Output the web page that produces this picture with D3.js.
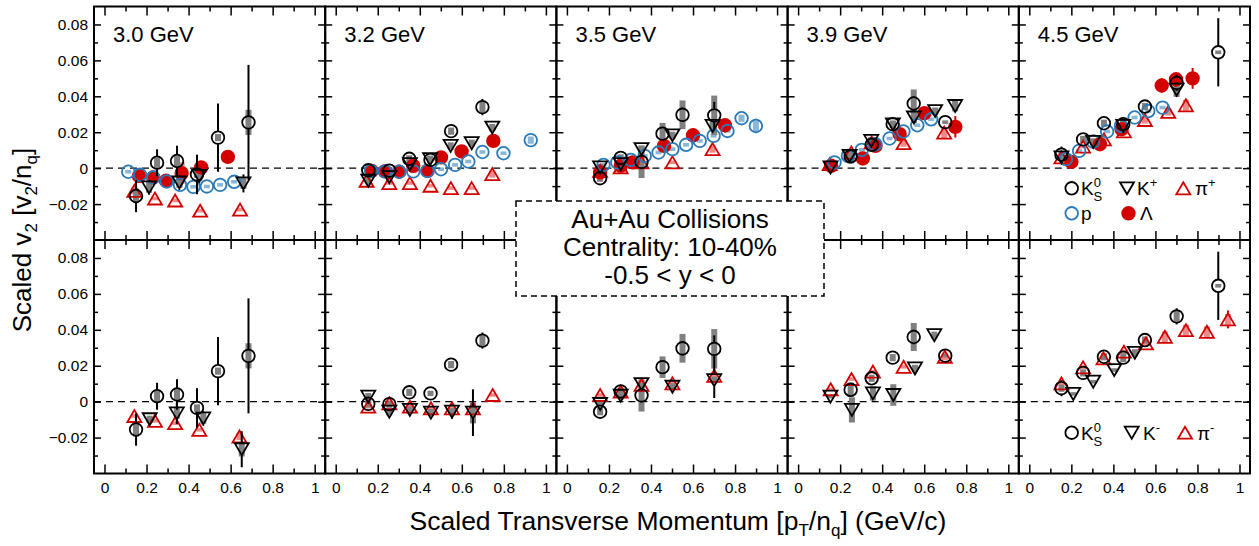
<!DOCTYPE html>
<html lang="en">
<head>
<meta charset="UTF-8">
<title>Scaled v2 vs scaled pT</title>
<style>
  body { margin: 0; background: #fff; }
  svg { font-family: "Liberation Sans", Arial, Helvetica, sans-serif; }
</style>
</head>
<body>
<svg id="chart" width="1259" height="546"></svg>
<script src="https://d3js.org/d3.v7.min.js"></script>
<script>
// ---- data: one list per particle, one sub-list per energy, points are [pT/nq, v2/nq, stat, sys]
var energies = ["3.0 GeV", "3.2 GeV", "3.5 GeV", "3.9 GeV", "4.5 GeV"];
var xMajor = [0, 0.2, 0.4, 0.6, 0.8, 1];
var xMinor = [0.1, 0.3, 0.5, 0.7, 0.9];
var yMajor = [-0.02, 0, 0.02, 0.04, 0.06, 0.08];
var yMinor = [-0.03, -0.01, 0.01, 0.03, 0.05, 0.07];

var k0s = [
  [[0.15,-0.0155,0.009,0.004],[0.25,0.003,0.0075,0.003],[0.345,0.004,0.0085,0.003],[0.44,-0.0035,0.011,0.002],[0.54,0.017,0.019,0.002],[0.685,0.0255,0.032,0.007]],
  [[0.155,-0.0012,0.002,0.002],[0.255,-0.0014,0.002,0.002],[0.35,0.0052,0.002,0.002],[0.451,0.0046,0.002,0.0015],[0.549,0.0206,0.0035,0.002],[0.698,0.034,0.0045,0.003]],
  [[0.158,-0.0056,0.002,0.002],[0.256,0.0057,0.003,0.002],[0.355,0.0035,0.004,0.009],[0.455,0.0192,0.003,0.006],[0.55,0.0297,0.004,0.008],[0.701,0.0294,0.0075,0.011]],
  [[0.25,0.0066,0.003,0.004],[0.35,0.013,0.002,0.002],[0.45,0.0245,0.002,0.002],[0.55,0.036,0.004,0.0078],[0.7,0.0256,0.002,0.001]],
  [[0.153,0.0075,0.0045,0.002],[0.256,0.016,0.003,0.002],[0.355,0.025,0.003,0.002],[0.447,0.0245,0.0035,0.0025],[0.55,0.0343,0.0035,0.002],[0.701,0.0475,0.0045,0.003],[0.899,0.0645,0.019,0.001]]
];
var kplus = [
  [[0.212,-0.0107,0.004,0.003],[0.356,-0.008,0.004,0.003],[0.451,-0.0043,0.004,0.003],[0.661,-0.0085,0.005,0.003]],
  [[0.155,-0.007,0.002,0.002],[0.255,-0.005,0.002,0.002],[0.353,0.0022,0.002,0.002],[0.449,0.005,0.002,0.002],[0.547,0.0124,0.002,0.002],[0.647,0.0139,0.002,0.002],[0.745,0.0226,0.003,0.002]],
  [[0.158,0.0004,0.002,0.002],[0.256,0.0022,0.002,0.002],[0.355,0.0106,0.003,0.002],[0.502,0.0183,0.002,0.002],[0.693,0.0235,0.003,0.003]],
  [[0.154,0.0004,0.002,0.002],[0.245,0.0068,0.002,0.002],[0.348,0.0152,0.002,0.002],[0.451,0.0244,0.002,0.002],[0.551,0.0282,0.002,0.003],[0.652,0.0318,0.002,0.002],[0.747,0.0346,0.003,0.003]],
  [[0.153,0.006,0.002,0.002],[0.304,0.0146,0.002,0.002],[0.447,0.0235,0.003,0.004],[0.701,0.0437,0.004,0.004]]
];
var piplus = [
  [[0.142,-0.0126,0.003,0.002],[0.24,-0.0169,0.002,0.001],[0.336,-0.018,0.002,0.001],[0.455,-0.0237,0.002,0.001],[0.645,-0.0231,0.002,0.001]],
  [[0.147,-0.007,0.001,0.001],[0.255,-0.0083,0.001,0.001],[0.353,-0.0083,0.001,0.001],[0.451,-0.0098,0.001,0.001],[0.548,-0.0111,0.001,0.001],[0.647,-0.0111,0.001,0.001],[0.745,-0.0033,0.002,0.002]],
  [[0.158,-0.0015,0.001,0.001],[0.256,0.0004,0.001,0.001],[0.355,0.0032,0.001,0.001],[0.502,0.0032,0.001,0.001],[0.693,0.0106,0.002,0.002]],
  [[0.15,0.0022,0.001,0.001],[0.253,0.0087,0.001,0.001],[0.35,0.0143,0.001,0.001],[0.502,0.0139,0.001,0.002],[0.695,0.0198,0.002,0.003]],
  [[0.153,0.006,0.001,0.001],[0.256,0.012,0.001,0.001],[0.355,0.016,0.001,0.001],[0.45,0.0205,0.001,0.001],[0.55,0.0268,0.001,0.002],[0.661,0.0313,0.002,0.002],[0.745,0.035,0.002,0.003]]
];
var proton = [
  [[0.113,-0.002,0.001,0.001],[0.169,-0.0037,0.001,0.001],[0.232,-0.0052,0.001,0.001],[0.296,-0.0074,0.001,0.001],[0.359,-0.0093,0.001,0.001],[0.423,-0.0104,0.001,0.001],[0.487,-0.0102,0.001,0.001],[0.55,-0.0093,0.001,0.001],[0.617,-0.0076,0.001,0.001]],
  [[0.168,-0.0015,0.001,0.001],[0.234,-0.0018,0.001,0.001],[0.302,-0.002,0.001,0.001],[0.369,-0.0018,0.001,0.001],[0.436,-0.0015,0.001,0.001],[0.501,-0.0006,0.001,0.001],[0.568,0.0018,0.001,0.001],[0.631,0.0037,0.001,0.001],[0.698,0.009,0.001,0.001],[0.798,0.0083,0.001,0.001],[0.928,0.0156,0.003,0.002]],
  [[0.174,0.0018,0.001,0.001],[0.24,0.0032,0.001,0.001],[0.304,0.0046,0.001,0.001],[0.37,0.0068,0.001,0.001],[0.436,0.0087,0.001,0.001],[0.502,0.0106,0.001,0.001],[0.567,0.013,0.001,0.001],[0.632,0.0152,0.001,0.001],[0.698,0.018,0.001,0.001],[0.764,0.0207,0.002,0.001],[0.831,0.0278,0.002,0.002],[0.899,0.0235,0.004,0.003]],
  [[0.173,0.0032,0.001,0.001],[0.237,0.0068,0.001,0.001],[0.303,0.0102,0.001,0.001],[0.368,0.0133,0.001,0.001],[0.435,0.0165,0.001,0.001],[0.501,0.0204,0.001,0.001],[0.567,0.0239,0.001,0.001],[0.633,0.0272,0.001,0.001]],
  [[0.174,0.005,0.001,0.001],[0.237,0.0096,0.001,0.001],[0.304,0.0148,0.001,0.001],[0.37,0.0204,0.001,0.001],[0.436,0.0235,0.001,0.001],[0.501,0.0282,0.001,0.001],[0.566,0.0318,0.001,0.001],[0.634,0.0337,0.001,0.001]]
];
var lambda = [
  [[0.164,-0.0043,0.002,0.004],[0.232,-0.0052,0.002,0.003],[0.293,-0.007,0.002,0.003],[0.367,-0.0028,0.003,0.006],[0.46,0.0004,0.002,0.002],[0.587,0.0063,0.003,0.002]],
  [[0.171,-0.0015,0.001,0.001],[0.234,-0.0018,0.001,0.001],[0.302,-0.002,0.001,0.001],[0.369,0.0013,0.001,0.001],[0.437,-0.0015,0.001,0.001],[0.501,0.006,0.001,0.001],[0.599,0.0093,0.002,0.001],[0.75,0.0152,0.0035,0.003]],
  [[0.158,-0.0024,0.001,0.001],[0.256,0.0013,0.001,0.001],[0.312,0.0032,0.001,0.001],[0.462,0.0124,0.002,0.001],[0.6,0.0183,0.002,0.001],[0.752,0.0239,0.004,0.003]],
  [[0.157,0.0013,0.001,0.001],[0.308,0.0054,0.001,0.001],[0.368,0.0124,0.001,0.001],[0.483,0.0189,0.002,0.001],[0.601,0.0306,0.002,0.002],[0.748,0.023,0.006,0.003]],
  [[0.2,0.0035,0.001,0.001],[0.336,0.0133,0.001,0.001],[0.439,0.0217,0.002,0.001],[0.63,0.046,0.004,0.003],[0.698,0.0494,0.004,0.004],[0.777,0.05,0.0058,0.003]]
];
var kminus = [
  [[0.215,-0.0098,0.003,0.002],[0.344,-0.0065,0.006,0.003],[0.47,-0.0093,0.004,0.003],[0.653,-0.0265,0.01,0.004]],
  [[0.155,0.0028,0.002,0.002],[0.255,-0.0056,0.002,0.002],[0.353,-0.0046,0.002,0.002],[0.453,-0.0061,0.003,0.002],[0.553,-0.0056,0.004,0.002],[0.653,-0.0061,0.013,0.006]],
  [[0.158,-0.0013,0.002,0.002],[0.256,0.0033,0.002,0.002],[0.355,0.0098,0.002,0.002],[0.502,0.0083,0.002,0.002],[0.701,0.012,0.01,0.002]],
  [[0.154,0.0028,0.002,0.001],[0.256,-0.0046,0.003,0.007],[0.356,0.0046,0.002,0.004],[0.453,0.0037,0.002,0.006],[0.556,0.0185,0.002,0.002],[0.648,0.037,0.003,0.002]],
  [[0.209,0.0043,0.001,0.001],[0.304,0.0111,0.001,0.001],[0.404,0.0176,0.002,0.001],[0.502,0.0272,0.002,0.002]]
];
var piminus = [
  [[0.142,-0.008,0.002,0.001],[0.24,-0.0107,0.002,0.001],[0.336,-0.012,0.002,0.001],[0.451,-0.0157,0.002,0.001],[0.642,-0.0194,0.002,0.002]],
  [[0.155,-0.0028,0.001,0.001],[0.255,-0.0009,0.001,0.001],[0.353,-0.0028,0.001,0.001],[0.453,-0.0037,0.001,0.001],[0.553,-0.0037,0.001,0.001],[0.653,-0.0037,0.001,0.001],[0.747,0.0037,0.001,0.001]],
  [[0.158,0.0037,0.001,0.001],[0.256,0.0056,0.001,0.001],[0.355,0.0093,0.001,0.001],[0.502,0.0102,0.001,0.001],[0.701,0.0144,0.002,0.002]],
  [[0.155,0.0069,0.001,0.001],[0.254,0.0126,0.001,0.001],[0.356,0.0167,0.001,0.001],[0.502,0.0194,0.001,0.001],[0.698,0.025,0.003,0.002]],
  [[0.153,0.0102,0.001,0.001],[0.256,0.0191,0.001,0.001],[0.353,0.0241,0.001,0.001],[0.45,0.0278,0.001,0.001],[0.555,0.0324,0.001,0.001],[0.645,0.0361,0.002,0.003],[0.745,0.0398,0.002,0.003],[0.845,0.0389,0.002,0.003],[0.945,0.0458,0.005,0.003]]
];

// ---- layout
var red = "#d20000", blue = "#2a7ab8";
var left = 94, right = 1250, rowTops = [6.5, 240], rowH = 233.5;
var colW = (right - left) / 5;

var x = d3.scaleLinear().domain([-0.05, 1.05]).range([0, colW]);
var y = d3.scaleLinear().domain([-0.04, 0.09]).range([rowH, 0]);

var styles = {
  k0s:     { shape: "circle", color: "#000", fill: "none", sys: "#808080" },
  kplus:   { shape: "down",   color: "#000", fill: "none", sys: "#808080" },
  kminus:  { shape: "down",   color: "#000", fill: "none", sys: "#808080" },
  piplus:  { shape: "up",     color: red,    fill: "none", sys: "rgba(225,60,60,0.6)" },
  piminus: { shape: "up",     color: red,    fill: "none", sys: "rgba(225,60,60,0.6)" },
  proton:  { shape: "circle", color: blue,   fill: "none", sys: "rgba(42,122,184,0.55)" },
  lambda:  { shape: "circle", color: red,    fill: red,    sys: "rgba(225,60,60,0.6)" }
};
var topSeries = [["lambda", lambda], ["piplus", piplus], ["proton", proton], ["kplus", kplus], ["k0s", k0s]];
var botSeries = [["piminus", piminus], ["kminus", kminus], ["k0s", k0s]];

var svg = d3.select("#chart");

function marker(g, st, cx, cy) {
  if (st.shape === "circle") {
    g.append("circle").attr("cx", cx).attr("cy", cy).attr("r", 6.3)
      .attr("fill", st.fill).attr("stroke", st.color).attr("stroke-width", 1.8);
  } else {
    var s = st.shape === "up" ? 1 : -1;
    g.append("path")
      .attr("d", "M" + cx + "," + (cy - 6 * s) + "L" + (cx + 7) + "," + (cy + 6 * s) + "L" + (cx - 7) + "," + (cy + 6 * s) + "Z")
      .attr("fill", st.fill).attr("stroke", st.color).attr("stroke-width", 1.8).attr("stroke-linejoin", "miter");
  }
}

function styleAxis(a) {
  a.select(".domain").remove();
  a.selectAll(".tick line").attr("stroke", "#000").attr("stroke-width", 1.5);
  a.selectAll(".tick text").attr("fill", "#000").attr("font-size", 15.5)
    .attr("font-family", "Liberation Sans, Arial, sans-serif");
}

var fmtX = function (d) { return d === 0 ? "0" : d === 1 ? "1" : d3.format(".1f")(d); };
var fmtY = function (d) { return d === 0 ? "0" : d3.format(".2f")(d); };

energies.forEach(function (en, c) {
  [0, 1].forEach(function (r) {
    var g = svg.append("g").attr("transform", "translate(" + (left + c * colW) + "," + rowTops[r] + ")");

    g.append("line").attr("x1", 0).attr("x2", colW).attr("y1", y(0)).attr("y2", y(0))
      .attr("stroke", "#000").attr("stroke-width", 1.4).attr("stroke-dasharray", "7,5");

    // axes, ticks pointing inward
    g.append("g").attr("transform", "translate(0," + rowH + ")")
      .call(d3.axisBottom(x).tickValues(xMajor).tickSize(-9).tickPadding(8).tickFormat(r === 1 ? fmtX : ""))
      .call(styleAxis);
    g.append("g").attr("transform", "translate(0," + rowH + ")")
      .call(d3.axisBottom(x).tickValues(xMinor).tickSize(-5).tickFormat("")).call(styleAxis);
    g.append("g").call(d3.axisTop(x).tickValues(xMajor).tickSize(-9).tickFormat("")).call(styleAxis);
    g.append("g").call(d3.axisTop(x).tickValues(xMinor).tickSize(-5).tickFormat("")).call(styleAxis);
    g.append("g")
      .call(d3.axisLeft(y).tickValues(yMajor).tickSize(-7).tickPadding(6).tickFormat(c === 0 ? fmtY : ""))
      .call(styleAxis);
    g.append("g").call(d3.axisLeft(y).tickValues(yMinor).tickSize(-4).tickFormat("")).call(styleAxis);
    g.append("g").attr("transform", "translate(" + colW + ",0)")
      .call(d3.axisRight(y).tickValues(yMajor).tickSize(-7).tickFormat("")).call(styleAxis);
    g.append("g").attr("transform", "translate(" + colW + ",0)")
      .call(d3.axisRight(y).tickValues(yMinor).tickSize(-4).tickFormat("")).call(styleAxis);

    var series = r === 0 ? topSeries : botSeries;
    // systematic boxes first
    series.forEach(function (s) {
      var st = styles[s[0]];
      s[1][c].forEach(function (p) {
        g.append("rect").attr("x", x(p[0]) - 3).attr("width", 6)
          .attr("y", y(p[1] + p[3])).attr("height", y(p[1] - p[3]) - y(p[1] + p[3]))
          .attr("fill", st.sys);
      });
    });
    // statistical bars and markers
    series.forEach(function (s) {
      var st = styles[s[0]];
      s[1][c].forEach(function (p) {
        var cx = x(p[0]), cy = y(p[1]), hi = y(p[1] + p[2]), lo = y(p[1] - p[2]);
        if (cy - hi > 6.5) {
          g.append("line").attr("x1", cx).attr("x2", cx).attr("y1", hi).attr("y2", cy - 6.5)
            .attr("stroke", st.color).attr("stroke-width", 2);
          g.append("line").attr("x1", cx).attr("x2", cx).attr("y1", cy + 6.5).attr("y2", lo)
            .attr("stroke", st.color).attr("stroke-width", 2);
        }
        marker(g, st, cx, cy);
      });
    });

    g.append("rect").attr("width", colW).attr("height", rowH)
      .attr("fill", "none").attr("stroke", "#000").attr("stroke-width", 2);

    if (r === 0) {
      g.append("text").attr("x", 19).attr("y", 35).attr("font-size", 22).text(en);
    }
  });
});

// ---- legends
function addLabel(t, base, sup, sub) {
  t.append("tspan").text(base);
  if (sup) t.append("tspan").attr("dy", -8).attr("font-size", 13).text(sup);
  if (sub) t.append("tspan").attr("dx", -7.3).attr("dy", 14).attr("font-size", 13).text(sub);
}
var lg = svg.append("g").attr("font-size", 19);
var legTop = [
  ["k0s", 1071.7, 188.3, 1081, "K", "0", "S"],
  ["kplus", 1127, 188.3, 1137, "K", "+", null],
  ["piplus", 1183.3, 188.3, 1195, "\u03c0", "+", null],
  ["proton", 1071.7, 213.3, 1081, "p", null, null],
  ["lambda", 1128.5, 213.3, 1140, "\u039b", null, null]
];
var legBot = [
  ["k0s", 1071.7, 432.7, 1081, "K", "0", "S"],
  ["kminus", 1131.7, 432.7, 1143, "K", "-", null],
  ["piminus", 1185, 432.7, 1197, "\u03c0", "-", null]
];
legTop.concat(legBot).forEach(function (d) {
  marker(lg, styles[d[0]], d[1], d[2]);
  addLabel(lg.append("text").attr("x", d[3]).attr("y", d[2] + 7), d[4], d[5], d[6]);
});

// ---- centre box
var box = svg.append("g");
box.append("rect").attr("x", 516).attr("y", 201).attr("width", 308).attr("height", 95)
  .attr("fill", "#fff").attr("stroke", "#000").attr("stroke-width", 1.5).attr("stroke-dasharray", "6,4");
["Au+Au Collisions", "Centrality: 10-40%", "-0.5 < y < 0"].forEach(function (s, i) {
  box.append("text").attr("x", 670).attr("y", 228 + i * 28).attr("text-anchor", "middle")
    .attr("font-size", 26).text(s);
});

// ---- axis titles
var xt = svg.append("text").attr("x", 678).attr("y", 530).attr("text-anchor", "middle").attr("font-size", 26.5);
xt.append("tspan").text("Scaled Transverse Momentum [p");
xt.append("tspan").attr("dy", 6).attr("font-size", 17).text("T");
xt.append("tspan").attr("dy", -6).text("/n");
xt.append("tspan").attr("dy", 6).attr("font-size", 17).text("q");
xt.append("tspan").attr("dy", -6).text("] (GeV/c)");

var yt = svg.append("text").attr("transform", "translate(31,240) rotate(-90)")
  .attr("text-anchor", "middle").attr("font-size", 26);
yt.append("tspan").text("Scaled v");
yt.append("tspan").attr("dy", 6).attr("font-size", 17).text("2");
yt.append("tspan").attr("dy", -6).text(" [v");
yt.append("tspan").attr("dy", 6).attr("font-size", 17).text("2");
yt.append("tspan").attr("dy", -6).text("/n");
yt.append("tspan").attr("dy", 6).attr("font-size", 17).text("q");
yt.append("tspan").attr("dy", -6).text("]");
</script>
</body>
</html>
